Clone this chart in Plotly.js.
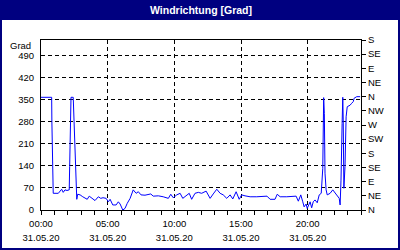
<!DOCTYPE html>
<html>
<head>
<meta charset="utf-8">
<script src="https://cdn.plot.ly/plotly-3.0.1.min.js"></script>
<style>html,body{margin:0;padding:0;background:#fff}#chart{width:400px;height:250px}</style>
</head>
<body>
<div id="chart"></div>
<script>
// Wind direction, 31.05.20 (times HH:MM, direction in degrees)
const day = "2020-05-31";
const times = [
  "00:00","00:48","00:49","00:51","00:55","01:18","01:33","01:40","01:48","01:57",
  "02:07","02:09","02:12","02:15","02:25","02:29","02:32","02:36","02:41","02:45",
  "02:56","03:08","03:18","03:28","03:37","03:48","04:03","04:18","04:29","04:39",
  "04:53","05:03","05:11","05:23","05:38","05:48","05:56","06:08","06:18","06:28",
  "06:41","06:55","07:08","07:18","07:30","07:48","08:14","08:25","08:48","09:10",
  "09:33","09:44","09:55","10:11","10:26","10:38","10:53","11:07","11:18","11:33",
  "11:48","12:03","12:23","12:41","12:55","13:11","13:26","13:40","13:56","14:11",
  "14:23","14:38","14:52","15:03","15:18","15:41","16:11","16:41","16:57","17:11",
  "17:33","17:43","17:56","18:26","18:55","19:08","19:18","19:29","19:38","19:44",
  "19:53","19:58","20:11","20:18","20:25","20:33","20:43","20:52","21:01","21:08",
  "21:12","21:15","21:18","21:23","21:28","21:41","21:53","22:03","22:13","22:22",
  "22:26","22:30","22:35","22:38","22:40","22:43","22:48","22:53","22:58","23:11",
  "23:18","23:25","23:29","23:41","23:56"
];
const direction = [
  358,358,280,129,53,53,66,56,64,62,
  64,138,280,358,358,275,201,85,34,50,
  48,42,37,34,44,37,30,42,37,39,
  37,26,34,16,16,26,19,0,5,21,
  37,64,53,58,48,47,51,44,45,42,
  37,50,39,48,53,37,44,53,34,53,
  56,53,60,37,51,66,53,48,37,48,
  35,58,34,48,45,42,42,44,44,34,
  34,50,42,42,44,44,28,48,26,10,
  19,5,26,7,26,32,23,48,53,132,
  357,307,117,64,48,53,64,55,48,37,
  16,95,275,358,286,69,138,296,328,333,
  339,344,355,360,360
];
const leftTicks = [0,70,140,210,280,350,420,490];
const compassVals = [0,45,90,135,180,225,270,315,360,405,450,495,540];
const compassText = ["N","NE","E","SE","S","SW","W","NW","N","NE","E","SE","S"];
const titleText = "Windrichtung [Grad]";
const unitText = "Grad";

// layout geometry (pixels)
const W = 400, H = 250, L = 41, R = 361, T = 40, B = 210;
const px = x => (x - L) / (R - L);
const py = y => (B - y) / (B - T);
const navy = "#000080";
const font = {family: "Liberation Sans, Arial, sans-serif", size: 9.5, color: "#000"};
const xs = times.map(t => day + " " + t);
const xRange = [day + " 00:00", "2020-06-01 00:00"];

const trace = {
  x: xs, y: direction,
  type: "scatter", mode: "lines",
  line: {color: "#0000ff", width: 1},
  hoverinfo: "skip", showlegend: false
};
// same series, invisible, bound to the secondary axes (compass scale and date row)
const traceCompass = {
  x: xs, y: direction, xaxis: "x2", yaxis: "y2",
  type: "scatter", mode: "lines", opacity: 0,
  line: {color: "rgba(0,0,0,0)", width: 0},
  hoverinfo: "skip", showlegend: false
};

const layout = {
  width: W, height: H,
  margin: {l: L, r: W - R, t: T, b: H - B, pad: 0},
  paper_bgcolor: "#ffffff", plot_bgcolor: "#ffffff",
  font: font,
  showlegend: false,
  title: {text: "<b>" + titleText + "</b>", x: 0.5, xref: "paper", xanchor: "center",
          y: 1 - 10.5 / H, yref: "container", yanchor: "middle",
          font: {family: "Liberation Sans, Arial, sans-serif", size: 10.5, color: "#ffffff"}},
  xaxis: {
    type: "date", range: xRange,
    tickmode: "linear", tick0: day + " 00:00", dtick: 5 * 3600000,
    tickformat: "%H:%M",
    ticks: "outside", ticklen: 4, tickcolor: "#000", tickwidth: 1,
    minor: {dtick: 3600000, tick0: day + " 00:00", ticks: "outside", ticklen: 4, tickcolor: "#000", showgrid: false},
    showline: true, linecolor: "#000", linewidth: 1, mirror: true,
    showgrid: true, gridcolor: "#000", gridwidth: 1, griddash: "4px,3px",
    zeroline: false, tickfont: font, ticklabelstandoff: 1, fixedrange: true
  },
  xaxis2: {
    type: "date", overlaying: "x", side: "bottom", anchor: "y2",
    range: xRange,
    tickmode: "linear", tick0: day + " 00:00", dtick: 5 * 3600000,
    tickformat: "%d.%m.%y", ticks: "", showgrid: false, showline: false, zeroline: false,
    tickfont: font, ticklabelstandoff: 20, fixedrange: true
  },
  yaxis: {
    range: [0, 540], tickmode: "array", tickvals: leftTicks,
    ticks: "outside", ticklen: 4, tickcolor: "rgba(0,0,0,0)",
    showline: true, linecolor: "#000", linewidth: 1, mirror: true,
    showgrid: true, gridcolor: "#000", gridwidth: 1, griddash: "4px,3px",
    zeroline: false, tickfont: font, fixedrange: true
  },
  yaxis2: {
    overlaying: "y", side: "right", anchor: "x2", range: [0, 540],
    tickmode: "array", tickvals: compassVals, ticktext: compassText,
    ticks: "outside", ticklen: 4, tickcolor: "#000",
    showgrid: false, zeroline: false, showline: false, tickfont: font, fixedrange: true
  },
  annotations: [{
    text: unitText, xref: "paper", yref: "paper", x: 0, y: py(45),
    xanchor: "right", yanchor: "middle", xshift: -8, showarrow: false, font: font
  }],
  shapes: [
    {type: "rect", xref: "paper", yref: "paper", x0: px(0), x1: px(W), y0: py(20), y1: py(0),
     fillcolor: navy, line: {width: 0}, layer: "above"},
    {type: "rect", xref: "paper", yref: "paper", x0: px(1), x1: px(W - 1), y0: py(H - 1), y1: py(1),
     fillcolor: "rgba(0,0,0,0)", line: {color: navy, width: 2}, layer: "above"}
  ]
};

Plotly.newPlot("chart", [trace, traceCompass], layout, {staticPlot: true, displayModeBar: false});
</script>
</body>
</html>
